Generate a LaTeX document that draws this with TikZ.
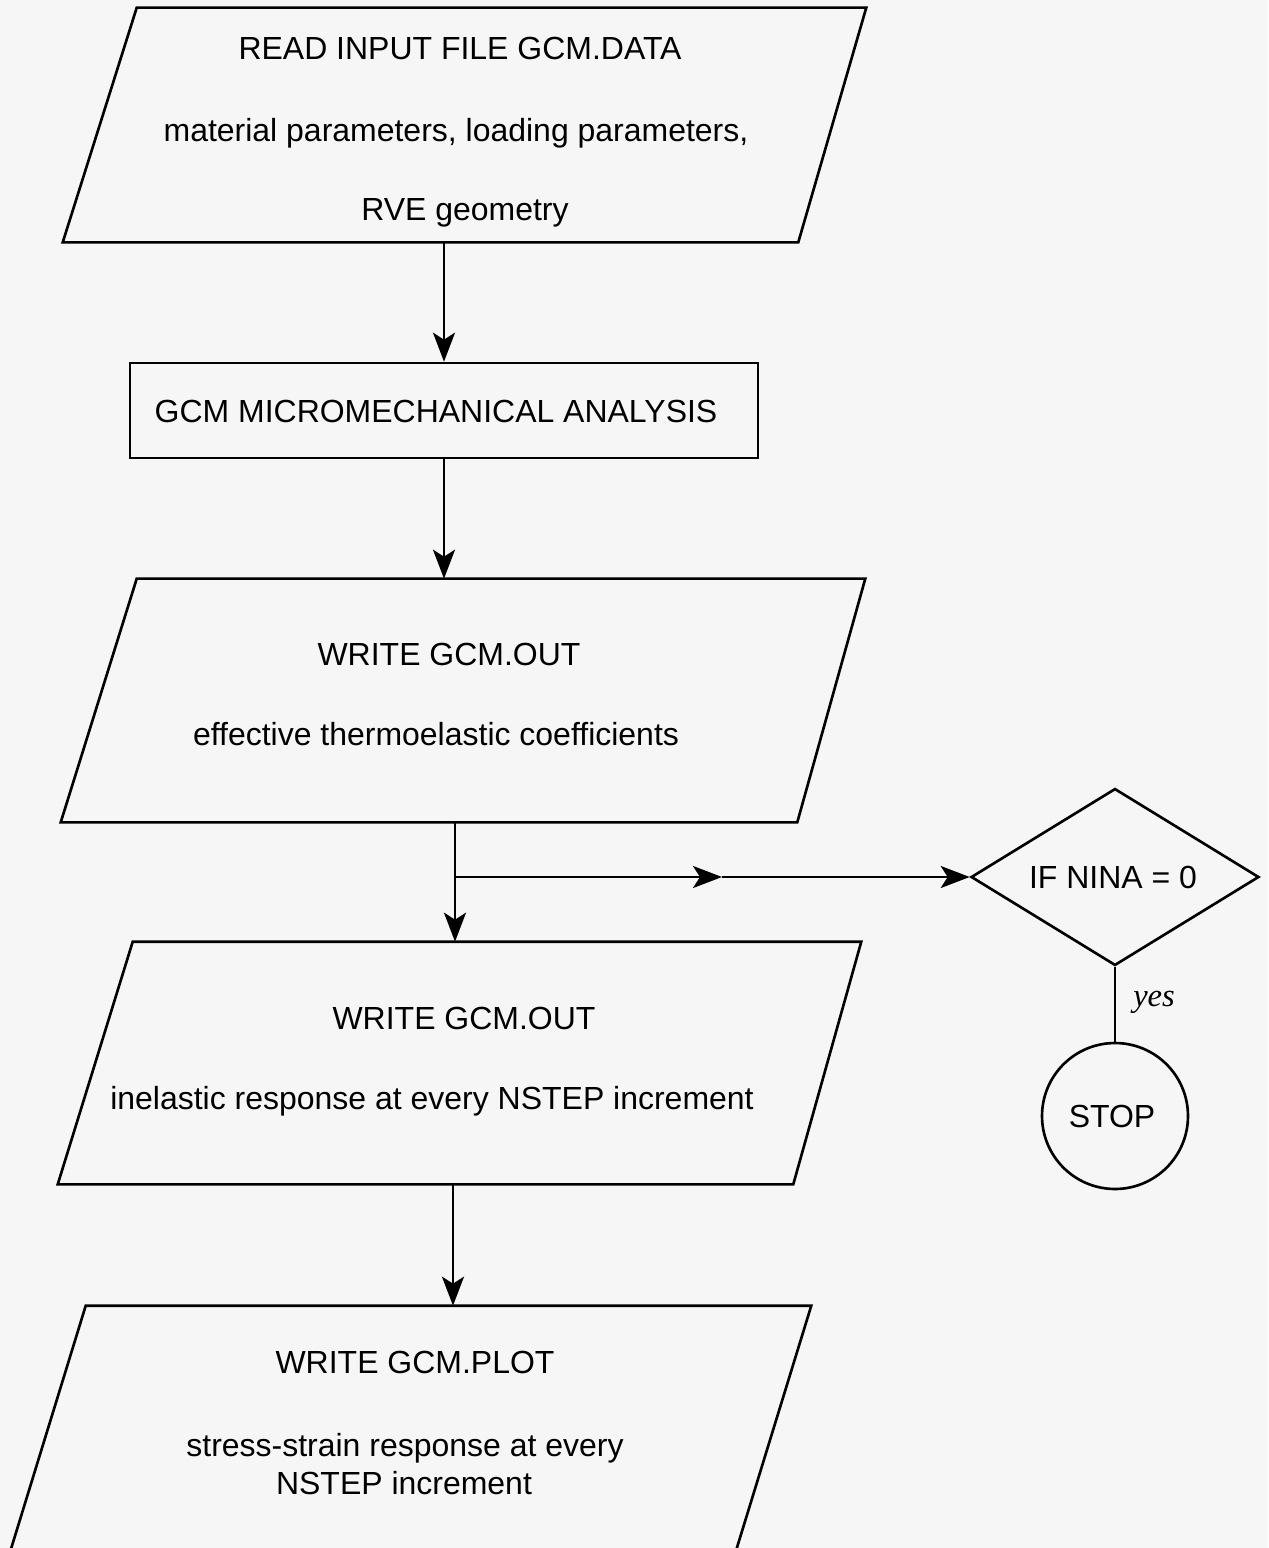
\documentclass[tikz,border=0pt]{standalone}
\usepackage{fontspec}
\setmainfont{Liberation Sans}
\newfontfamily\yesfont{Liberation Serif}
\usetikzlibrary{shapes.geometric,arrows.meta,calc}
\definecolor{bg}{RGB}{246,246,246}
\begin{document}
\begin{tikzpicture}[x=0.02cm,y=-0.02cm,
  line/.style={line width=1.5pt,line join=miter},
  arr/.style={line width=1.5pt,-{Stealth[length=0.58cm,width=0.44cm,inset=0.14cm]}},
  pbox/.style={rectangle,inner sep=0pt},
  txt/.style={anchor=base,inner sep=0pt,font=\fontsize{18.2}{22}\selectfont},
  procbox/.style={rectangle,draw,line width=1.5pt,inner sep=0pt},
  decbox/.style={diamond,draw,line width=1.5pt,inner sep=0pt},
  endbox/.style={circle,draw,line width=1.5pt,inner sep=0pt}]
\fill[bg] (0,0) rectangle (1268,1548);
\useasboundingbox (0,0) rectangle (1268,1548);
\clip (0,0) rectangle (1268,1548);

% parallelogram 1
\node[pbox,minimum width=16.06cm,minimum height=4.68cm] (p1) at (464.5,125) {};
\draw[line] ($(p1.north west)+(74,0)$) -- (p1.north east) -- ($(p1.south east)+(-68,0)$) -- (p1.south west) -- cycle;
\node[txt] (t1a) at (460,60) {READ INPUT FILE GCM.DATA};
\node[txt] (t1b) at (456,141) {material parameters, loading parameters,};
\node[txt] (t1c) at (465,220) {RVE geometry};

% rectangle
\node[procbox,minimum width=12.56cm,minimum height=1.9cm] (r) at (444,410.5) {};
\node[txt] (tr) at (436,422) {GCM MICROMECHANICAL ANALYSIS};

% parallelogram 2
\node[pbox,minimum width=16.08cm,minimum height=4.86cm] (p2) at (463,700.5) {};
\draw[line] ($(p2.north west)+(76,0)$) -- (p2.north east) -- ($(p2.south east)+(-68,0)$) -- (p2.south west) -- cycle;
\node[txt] (t2a) at (449,665) {WRITE GCM.OUT};
\node[txt] (t2b) at (436,745) {effective thermoelastic coefficients};

% parallelogram 3
\node[pbox,minimum width=16.06cm,minimum height=4.84cm] (p3) at (459.5,1063) {};
\draw[line] ($(p3.north west)+(75,0)$) -- (p3.north east) -- ($(p3.south east)+(-68,0)$) -- (p3.south west) -- cycle;
\node[txt] (t3a) at (464,1029) {WRITE GCM.OUT};
\node[txt] (t3b) at (432,1109) {inelastic response at every NSTEP increment};

% parallelogram 4 (cut off at the bottom)
\node[pbox,minimum width=16.04cm,minimum height=5.0cm] (p4) at (410,1431) {};
\draw[line] ($(p4.north west)+(77,0)$) -- (p4.north east) -- ($(p4.south east)+(-77,0)$) -- (p4.south west) -- cycle;
\node[txt] (t4a) at (415,1373) {WRITE GCM.PLOT};
\node[txt] (t4b) at (405,1456) {stress-strain response at every};
\node[txt] (t4c) at (404,1494) {NSTEP increment};

% decision and stop
\node[decbox,minimum width=5.76cm,minimum height=3.54cm] (d) at (1115,877) {};
\node[txt] (td) at (1113,888) {IF NINA = 0};
\node[endbox,minimum size=2.92cm] (s) at (1115,1116) {};
\node[txt] (ts) at (1112,1127) {STOP};

% connectors
\coordinate (j) at (455,877);
\coordinate (mid) at (722,877);
\coordinate (c4) at (453,0);
\draw[arr] (p1.south -| r.north) -- (r.north);
\draw[arr] (r.south) -- (p2.north -| r.south);
\draw[arr] (p2.south -| j) -- (p3.north -| j);
\draw[arr] (j) -- (mid);
\draw[arr] (mid) -- (d.west);
\draw[line] (d.south) -- (s.north);
\node[anchor=base,inner sep=0pt,font=\yesfont\itshape\fontsize{18.5}{22}\selectfont] (ty) at (1154,1006) {yes};
\draw[arr] (p3.south -| c4) -- (p4.north -| c4);
\end{tikzpicture}
\end{document}
